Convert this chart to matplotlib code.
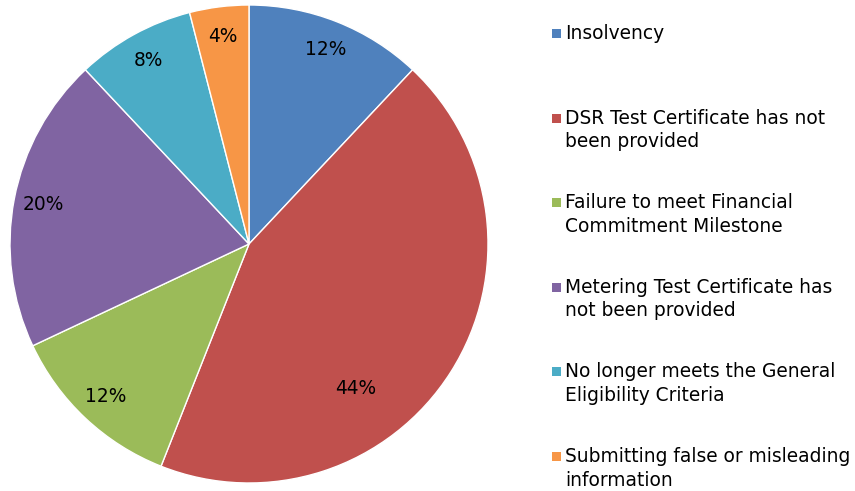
import matplotlib
matplotlib.use("Agg")
import matplotlib.pyplot as plt
from matplotlib.patches import Rectangle
import numpy as np

plt.rcParams["font.family"] = ["DejaVu Sans"]

categories = [
    "Insolvency",
    "DSR Test Certificate has not\nbeen provided",
    "Failure to meet Financial\nCommitment Milestone",
    "Metering Test Certificate has\nnot been provided",
    "No longer meets the General\nEligibility Criteria",
    "Submitting false or misleading\ninformation",
]
values = [12, 44, 12, 20, 8, 4]
colors = ["#4F81BD", "#C0504D", "#9BBB59", "#8064A2", "#4BACC6", "#F79646"]

FS = 13.4

fig = plt.figure(figsize=(8.55, 4.91), dpi=100)
ax = fig.add_axes([10/855, 8/491, 478/855, 478/491])
wedges, texts, autotexts = ax.pie(
    values, colors=colors, startangle=90, counterclock=False,
    autopct=lambda p: f"{p:.0f}%", pctdistance=0.875,
    wedgeprops=dict(edgecolor="white", linewidth=1),
    textprops=dict(fontsize=FS, color="black"),
)
# Excel-style best fit for the large slice label
big = int(np.argmax(values))
ang = np.deg2rad(90 - 143.6)
autotexts[big].set_position((0.75*np.cos(ang), 0.75*np.sin(ang)))
ax.set_xlim(-1, 1)
ax.set_ylim(-1, 1)
ax.set_aspect("equal")

# legend
x_box, x_txt = 552/855, 565/855
y0, dy = 33.5, 84.6
for i, (lab, c) in enumerate(zip(categories, colors)):
    ypx = y0 + dy*i
    yf = 1 - ypx/491
    fig.patches.append(Rectangle((x_box, yf - 4.5/491), 9/855, 9/491,
                                 transform=fig.transFigure, facecolor=c,
                                 edgecolor="none"))
    fig.text(x_txt, 1 - (ypx - 9.5)/491, lab, fontsize=FS, va="top", ha="left",
             linespacing=1.3, transform=fig.transFigure)

fig.savefig("out.png", dpi=100)
